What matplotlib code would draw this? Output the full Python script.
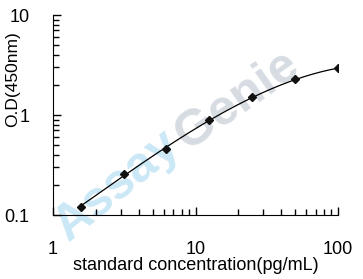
import numpy as np
import matplotlib
matplotlib.use("Agg")
import matplotlib.pyplot as plt
from matplotlib.ticker import LogLocator, NullFormatter, FixedLocator, FixedFormatter

conc = [1.5625, 3.125, 6.25, 12.5, 25, 50, 100]
od = [0.121, 0.257, 0.457, 0.89, 1.50, 2.27, 2.93]
xticks = [1, 10, 100]
xticklabels = ["1", "10", "100"]
yticks = [0.1, 1, 10]
yticklabels = ["0.1", "1", "10"]

plt.rcParams['font.family'] = ['Liberation Sans', 'DejaVu Sans']

W, H = 363, 279
fig = plt.figure(figsize=(W/100, H/100), dpi=100)
ax = fig.add_axes([53/W, 1-215/H, (338-53)/W, (215-15)/H])
ax.set_zorder(2)
ax.patch.set_alpha(0)

# watermark
fig.text(117/W, 1-186/H, "Assay", fontsize=36, fontweight='bold', color='#cbe8f7',
         rotation=39, ha='center', va='center', zorder=0)
fig.text(238/W, 1-100/H, "Genie", fontsize=36, fontweight='bold', color='#d7dce3',
         rotation=35, ha='center', va='center', zorder=0)

# fitted smooth curve (cubic in log-log space)
lx = np.log10(conc); ly = np.log10(od)
coef = np.polyfit(lx, ly, 3)
xs = np.linspace(lx.min(), lx.max(), 200)
ax.plot(10**xs, 10**np.polyval(coef, xs), color='black', lw=0.9)
ax.plot(conc, od, linestyle='none', marker='D', markersize=4, color='#111111')

ax.set_xscale('log'); ax.set_yscale('log')
ax.set_xlim(1, 100); ax.set_ylim(0.1, 10)
for s in ['top', 'right']:
    ax.spines[s].set_visible(False)
ax.xaxis.set_major_locator(FixedLocator(xticks))
ax.xaxis.set_major_formatter(FixedFormatter(xticklabels))
ax.yaxis.set_major_locator(FixedLocator(yticks))
ax.yaxis.set_major_formatter(FixedFormatter(yticklabels))
ax.xaxis.set_minor_locator(LogLocator(base=10, subs=np.arange(2, 10)))
ax.yaxis.set_minor_locator(LogLocator(base=10, subs=np.arange(2, 10)))
ax.xaxis.set_minor_formatter(NullFormatter())
ax.yaxis.set_minor_formatter(NullFormatter())
ax.tick_params(which='major', direction='in', length=6, width=1, labelsize=13)
ax.tick_params(which='minor', direction='in', length=4, width=1)
ax.tick_params(axis='x', which='major', pad=19)
ax.tick_params(axis='y', which='major', pad=17)
ax.set_xlabel("standard concentration(pg/mL)", fontsize=13)
ax.xaxis.set_label_coords(0.5, -0.21)
ax.set_ylabel("O.D(450nm)", fontsize=12.5)
ax.yaxis.set_label_coords(-0.117, 0.68)

fig.savefig("out.png", dpi=100)
